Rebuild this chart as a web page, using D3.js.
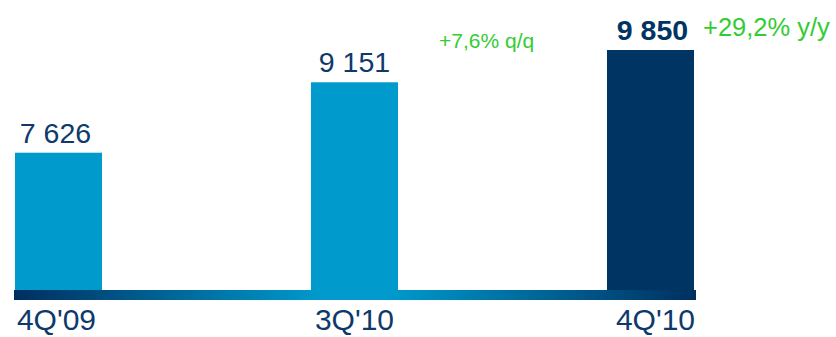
<!DOCTYPE html>
<html><head><meta charset="utf-8">
<script src="https://cdn.jsdelivr.net/npm/d3@7"></script>
<style>html,body{margin:0;padding:0;background:#fff;overflow:hidden}</style>
</head><body>
<svg id="chart" width="836" height="337"></svg>
<script>
const categories = ["4Q'09", "3Q'10", "4Q'10"];
const values = [7626, 9151, 9850];
const valueLabels = ["7 626", "9 151", "9 850"];
const changeLabels = ["+7,6% q/q", "+29,2% y/y"];

const svg = d3.select("#chart");
const font = "'Liberation Sans', Arial, sans-serif";
const navy = "#0E3A6B";
const green = "#33CC33";

const x = d3.scaleBand().domain(categories).range([15, 694]).paddingInner(0.706).paddingOuter(0);
const y = d3.scaleLinear().domain([4653, 9850]).range([290, 50]);

// gradient axis band
const defs = svg.append("defs");
const grad = defs.append("linearGradient").attr("id", "band").attr("x1", "0%").attr("x2", "100%");
grad.append("stop").attr("offset", "0%").attr("stop-color", "#002f5f");
grad.append("stop").attr("offset", "45%").attr("stop-color", "#009acd");
grad.append("stop").attr("offset", "55%").attr("stop-color", "#009acd");
grad.append("stop").attr("offset", "100%").attr("stop-color", "#002f5f");

svg.selectAll("rect.bar").data(values).join("rect")
  .attr("class", "bar")
  .attr("x", (d, i) => x(categories[i]))
  .attr("width", x.bandwidth())
  .attr("y", d => y(d))
  .attr("height", d => y.range()[0] - y(d))
  .attr("fill", (d, i) => i === 2 ? "#003462" : "#009bcc");

svg.append("rect")
  .attr("x", x.range()[0] - 1).attr("y", y.range()[0])
  .attr("width", x.range()[1] - x.range()[0] + 3).attr("height", 10)
  .attr("fill", "url(#band)");

// value labels
svg.selectAll("text.val").data(values).join("text")
  .attr("class", "val")
  .attr("x", (d, i) => x(categories[i]) + x.bandwidth() / 2 + (i === 0 ? -3 : (i === 2 ? 2 : 0)))
  .attr("y", d => y(d) - 10)
  .attr("text-anchor", "middle")
  .attr("font-family", font)
  .attr("font-size", 28.5)
  .attr("font-weight", (d, i) => i === 2 ? "bold" : "normal")
  .attr("fill", (d, i) => i === 2 ? "#003462" : navy)
  .text((d, i) => valueLabels[i]);

// category labels
svg.selectAll("text.cat").data(categories).join("text")
  .attr("class", "cat")
  .attr("x", (d, i) => x(d) + x.bandwidth() / 2 + (i === 2 ? 5 : (i === 0 ? -2 : 0)))
  .attr("y", 330)
  .attr("text-anchor", "middle")
  .attr("font-family", font)
  .attr("font-size", 30)
  .attr("fill", navy)
  .text(d => d);

// change annotations
svg.append("text")
  .attr("x", 439).attr("y", 48)
  .attr("font-family", font).attr("font-size", 21)
  .attr("fill", green).text(changeLabels[0]);
svg.append("text")
  .attr("x", 703).attr("y", 36)
  .attr("font-family", font).attr("font-size", 25.5)
  .attr("fill", green).text(changeLabels[1]);
</script>
</body></html>
